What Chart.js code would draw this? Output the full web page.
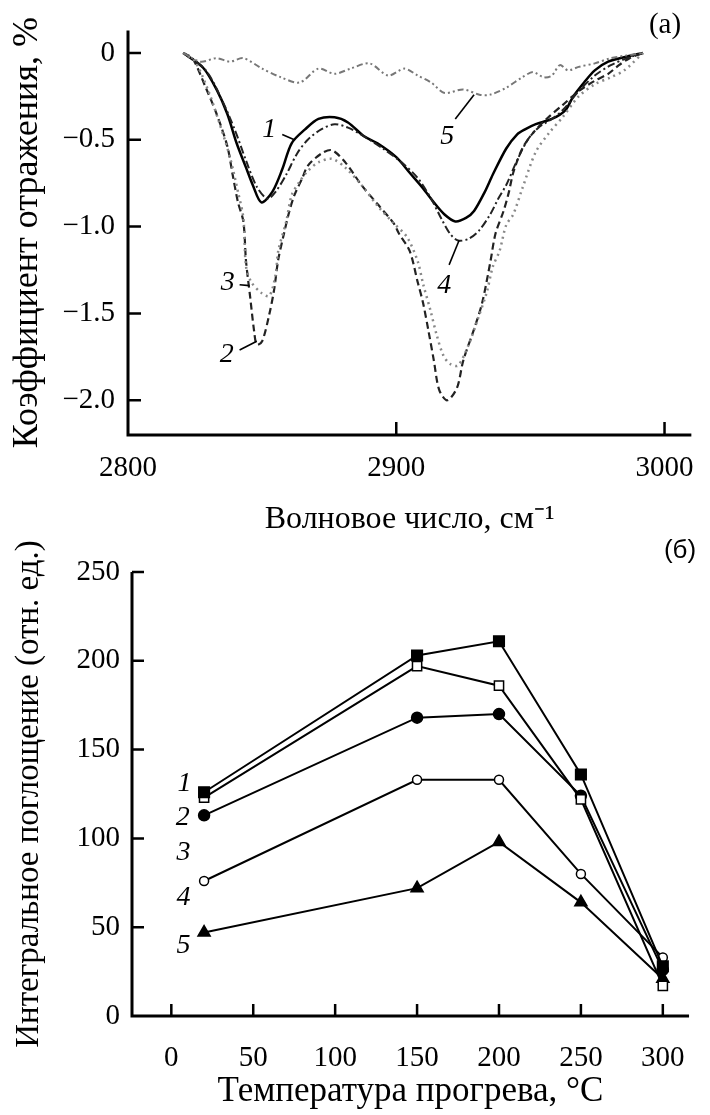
<!DOCTYPE html>
<html>
<head>
<meta charset="utf-8">
<script src="https://cdn.jsdelivr.net/npm/chart.js@4.4.1/dist/chart.umd.min.js"></script>
<style>
  html, body { margin: 0; padding: 0; background: #fff; }
  #wrap { position: relative; width: 710px; height: 1115px; }
  .box { position: absolute; left: 0; width: 710px; }
  #boxA { top: 0; height: 540px; }
  #boxB { top: 500px; height: 615px; }
</style>
</head>
<body>
<div id="wrap">
  <div class="box" id="boxA"><canvas id="chartA"></canvas></div>
  <div class="box" id="boxB"><canvas id="chartB"></canvas></div>
</div>
<script>
// (a) reflection spectra, wavenumber (cm-1) vs reflection coefficient (%)
const wn1 = [2820.6, 2828, 2833, 2837, 2840.5, 2844, 2846.5, 2849.7, 2853.8, 2857.5, 2861, 2866, 2871, 2877, 2882, 2888, 2893, 2900, 2905, 2910, 2914, 2918, 2922, 2926, 2929, 2933, 2936, 2941, 2945, 2948, 2952, 2958, 2963, 2966, 2970, 2974, 2979, 2986, 2992];
const r1  = [0, -0.085, -0.21, -0.35, -0.52, -0.66, -0.76, -0.86, -0.80, -0.67, -0.52, -0.44, -0.38, -0.37, -0.40, -0.48, -0.52, -0.60, -0.69, -0.78, -0.86, -0.93, -0.97, -0.95, -0.91, -0.80, -0.70, -0.55, -0.47, -0.44, -0.41, -0.38, -0.33, -0.25, -0.17, -0.10, -0.05, -0.02, 0];

const wn2 = [2820.6, 2824, 2829, 2833, 2837, 2839, 2841, 2843, 2844, 2845.5, 2847, 2848, 2850, 2852.6, 2854.5, 2856, 2858, 2860, 2862, 2865, 2867, 2872, 2876, 2881, 2887, 2893, 2899, 2901, 2905, 2908, 2910, 2912, 2914, 2916, 2919, 2922.6, 2925, 2929, 2932, 2935, 2937, 2940, 2942, 2943.6, 2947, 2951, 2956, 2962, 2968, 2974, 2979, 2983, 2987, 2992];
const r2  = [0, -0.03, -0.2, -0.35, -0.535, -0.70, -0.86, -0.97, -1.2, -1.4, -1.6, -1.68, -1.66, -1.51, -1.36, -1.19, -1.05, -0.92, -0.82, -0.72, -0.65, -0.58, -0.56, -0.63, -0.76, -0.87, -0.98, -1.04, -1.14, -1.32, -1.44, -1.6, -1.77, -1.94, -2.0, -1.93, -1.77, -1.59, -1.44, -1.21, -1.04, -0.91, -0.8, -0.69, -0.55, -0.46, -0.38, -0.30, -0.22, -0.16, -0.12, -0.07, -0.03, 0];

const wn3 = [2820.6, 2825, 2830, 2834, 2838, 2841, 2843, 2844, 2846, 2849.6, 2852.6, 2855, 2856, 2859, 2861, 2864, 2867, 2871, 2876, 2881, 2887, 2893, 2899, 2904, 2908, 2910, 2912.7, 2915, 2917.5, 2920, 2923, 2927, 2930, 2933.7, 2936, 2938.5, 2941, 2943.6, 2947, 2952, 2957, 2962, 2968, 2974, 2980, 2985, 2992];
const r3  = [0, -0.05, -0.22, -0.40, -0.6, -0.80, -0.95, -1.23, -1.32, -1.38, -1.40, -1.28, -1.14, -0.97, -0.82, -0.74, -0.68, -0.63, -0.61, -0.66, -0.76, -0.88, -0.98, -1.06, -1.2, -1.33, -1.48, -1.62, -1.74, -1.79, -1.80, -1.68, -1.55, -1.38, -1.23, -1.14, -0.99, -0.93, -0.78, -0.57, -0.46, -0.37, -0.25, -0.18, -0.14, -0.10, 0];

const wn4 = [2820.6, 2829, 2835, 2840, 2844, 2848, 2852, 2855, 2859, 2863, 2867, 2872, 2877, 2882, 2888, 2895, 2902, 2908, 2913, 2917, 2920, 2923, 2927, 2931, 2935, 2938, 2941, 2945, 2949, 2953, 2958, 2962, 2968, 2974, 2980, 2986, 2992];
const r4  = [0, -0.10, -0.27, -0.45, -0.62, -0.77, -0.84, -0.80, -0.70, -0.58, -0.50, -0.44, -0.41, -0.43, -0.48, -0.55, -0.63, -0.72, -0.84, -0.96, -1.04, -1.08, -1.07, -1.02, -0.93, -0.84, -0.76, -0.62, -0.50, -0.43, -0.38, -0.33, -0.22, -0.13, -0.07, -0.03, 0];

const wn5 = [2820.6, 2827, 2833, 2838, 2843, 2850, 2857, 2864, 2871, 2877, 2883, 2890, 2897, 2903, 2908, 2913, 2918, 2925, 2931, 2935, 2941, 2947, 2951, 2955, 2958, 2961, 2964, 2968, 2974, 2980, 2992];
const r5  = [0, -0.05, -0.03, -0.05, -0.03, -0.09, -0.14, -0.17, -0.09, -0.12, -0.09, -0.06, -0.13, -0.09, -0.13, -0.17, -0.23, -0.21, -0.24, -0.24, -0.20, -0.14, -0.11, -0.14, -0.13, -0.07, -0.10, -0.08, -0.06, -0.03, 0];

const xTicksA = [2800, 2900, 3000];
const yTicksA = [0, -0.5, -1.0, -1.5, -2.0];

// (б) integral absorption vs heating temperature
const temps = [20, 150, 200, 250, 300];
const abs1 = [126, 203, 211, 136, 28];
const abs2 = [123, 197, 186, 122, 17];
const abs3 = [113, 168, 170, 124, 26];
const abs4 = [76, 133, 133, 80, 33];
const abs5 = [47, 72, 98, 64, 21];

const xTicksB = [0, 50, 100, 150, 200, 250, 300];
const yTicksB = [0, 50, 100, 150, 200, 250];

const SERIF = "'Liberation Serif', 'Times New Roman', serif";

function pts(xs, ys) {
  return xs.map((x, i) => ({ x: x, y: ys[i] }));
}

// axis lines with inward ticks
const axesPlugin = {
  id: "axesInward",
  afterDatasetsDraw(chart, args, opts) {
    const ctx = chart.ctx;
    const a = chart.chartArea;
    const xs = chart.scales.x, ys = chart.scales.y;
    ctx.save();
    ctx.strokeStyle = "#000";
    ctx.lineWidth = opts.width || 3;
    ctx.beginPath();
    ctx.moveTo(a.left, a.top);
    ctx.lineTo(a.left, a.bottom);
    ctx.lineTo(a.right, a.bottom);
    ctx.stroke();
    ctx.lineWidth = opts.tickWidth || 2.5;
    ctx.beginPath();
    ys.ticks.forEach(t => {
      const y = ys.getPixelForValue(t.value);
      if (Math.abs(y - a.bottom) < 1) return;
      ctx.moveTo(a.left, y);
      ctx.lineTo(a.left + opts.len, y);
    });
    xs.ticks.forEach(t => {
      const x = xs.getPixelForValue(t.value);
      if (Math.abs(x - a.left) < 1) return;
      ctx.moveTo(x, a.bottom);
      ctx.lineTo(x, a.bottom - opts.len);
    });
    ctx.stroke();
    ctx.restore();
  }
};

// curve numbers, leader lines and panel letter
const notesPlugin = {
  id: "notes",
  afterDatasetsDraw(chart, args, opts) {
    const ctx = chart.ctx;
    const xs = chart.scales.x, ys = chart.scales.y;
    ctx.save();
    ctx.fillStyle = "#000";
    ctx.strokeStyle = "#000";
    ctx.lineWidth = 1.6;
    ctx.textAlign = "center";
    ctx.textBaseline = "middle";
    ctx.font = "italic 28px " + SERIF;
    (opts.items || []).forEach(n => {
      ctx.fillText(n.t, xs.getPixelForValue(n.x), ys.getPixelForValue(n.y));
      if (n.l) {
        ctx.beginPath();
        ctx.moveTo(xs.getPixelForValue(n.l[0]), ys.getPixelForValue(n.l[1]));
        ctx.lineTo(xs.getPixelForValue(n.l[2]), ys.getPixelForValue(n.l[3]));
        ctx.stroke();
      }
    });
    if (opts.panel) {
      ctx.font = opts.panel.font;
      ctx.fillText(opts.panel.t, opts.panel.px, opts.panel.py);
    }
    ctx.restore();
  }
};

const fixWidth = w => scale => { scale.width = w; };
const fixHeight = h => scale => { scale.height = h; };

new Chart(document.getElementById("chartA"), {
  type: "scatter",
  data: {
    datasets: [
      { label: "5", data: pts(wn5, r5), borderColor: "#777", borderWidth: 2, borderDash: [6, 3, 2, 3, 2, 3] },
      { label: "3", data: pts(wn3, r3), borderColor: "#888", borderWidth: 2.5, borderDash: [2, 4] },
      { label: "4", data: pts(wn4, r4), borderColor: "#222", borderWidth: 2, borderDash: [8, 3, 2, 3] },
      { label: "2", data: pts(wn2, r2), borderColor: "#222", borderWidth: 2.2, borderDash: [7, 4] },
      { label: "1", data: pts(wn1, r1), borderColor: "#000", borderWidth: 2.5 }
    ]
  },
  options: {
    responsive: true,
    maintainAspectRatio: false,
    animation: false,
    showLine: true,
    elements: { point: { radius: 0 }, line: { tension: 0.3, fill: false } },
    layout: { padding: { top: 22, right: 10, left: 0, bottom: 0 } },
    plugins: {
      legend: { display: false },
      tooltip: { enabled: false },
      axesInward: { len: 13, width: 3 },
      notes: {
        items: [
          { t: "1", x: 2852.7, y: -0.44, l: [2857.5, -0.47, 2862, -0.50] },
          { t: "2", x: 2836.8, y: -1.735, l: [2841.6, -1.71, 2848, -1.66] },
          { t: "3", x: 2837.2, y: -1.32, l: [2841.6, -1.335, 2845.3, -1.34] },
          { t: "4", x: 2917.9, y: -1.34, l: [2919.7, -1.22, 2923.4, -1.08] },
          { t: "5", x: 2919, y: -0.48, l: [2922, -0.38, 2929, -0.24] }
        ],
        panel: { t: "(a)", px: 665, py: 25, font: "29px " + SERIF }
      }
    },
    scales: {
      x: {
        type: "linear",
        min: 2800,
        max: 3010,
        afterFit: fixHeight(105),
        afterBuildTicks: s => { s.ticks = xTicksA.map(v => ({ value: v })); },
        grid: { display: false, drawTicks: false },
        border: { display: false },
        ticks: { padding: 16, color: "#000", font: { family: SERIF, size: 29 }, maxRotation: 0, callback: v => String(v) },
        title: { display: true, text: "Волновое число, см⁻¹", color: "#000", font: { family: SERIF, size: 32 }, padding: { top: 0, bottom: 1 } }
      },
      y: {
        min: -2.2,
        max: 0.13,
        afterFit: fixWidth(128),
        afterBuildTicks: s => { s.ticks = yTicksA.map(v => ({ value: v })); },
        grid: { display: false, drawTicks: false },
        border: { display: false },
        ticks: {
          padding: 13, color: "#000", font: { family: SERIF, size: 29 },
          callback: v => v === 0 ? "0" : "−" + Math.abs(v).toFixed(1)
        },
        title: { display: true, text: "Коэффициент отражения, %", color: "#000", font: { family: SERIF, size: 36 }, padding: { top: 6, bottom: 0 } }
      }
    }
  },
  plugins: [axesPlugin, notesPlugin]
});

new Chart(document.getElementById("chartB"), {
  type: "line",
  data: {
    datasets: [
      { label: "1", data: pts(temps, abs1), pointStyle: "rect", pointRadius: 7.5, pointBackgroundColor: "#000" },
      { label: "2", data: pts(temps, abs2), pointStyle: "rect", pointRadius: 6.5, pointBackgroundColor: "#fff" },
      { label: "3", data: pts(temps, abs3), pointStyle: "circle", pointRadius: 5.5, pointBackgroundColor: "#000" },
      { label: "4", data: pts(temps, abs4), pointStyle: "circle", pointRadius: 4.5, pointBackgroundColor: "#fff" },
      { label: "5", data: pts(temps, abs5), pointStyle: "triangle", pointRadius: 7, pointBackgroundColor: "#000" }
    ]
  },
  options: {
    responsive: true,
    maintainAspectRatio: false,
    animation: false,
    elements: {
      line: { borderColor: "#000", borderWidth: 2, tension: 0, fill: false },
      point: { borderColor: "#000", borderWidth: 1.5 }
    },
    layout: { padding: { top: 72, right: 2, left: 0, bottom: 0 } },
    plugins: {
      legend: { display: false },
      tooltip: { enabled: false },
      axesInward: { len: 12, width: 3 },
      notes: {
        items: [
          { t: "1", x: 8, y: 131 },
          { t: "2", x: 7, y: 111.5 },
          { t: "3", x: 7.5, y: 92 },
          { t: "4", x: 7.5, y: 66.5 },
          { t: "5", x: 7.5, y: 39.5 }
        ],
        panel: { t: "(б)", px: 680, py: 51, font: "26px 'Liberation Sans', Arial, sans-serif" }
      }
    },
    scales: {
      x: {
        type: "linear",
        min: -24,
        max: 316,
        afterFit: fixHeight(99),
        afterBuildTicks: s => { s.ticks = xTicksB.map(v => ({ value: v })); },
        grid: { display: false, drawTicks: false },
        border: { display: false },
        ticks: { padding: 25, color: "#000", font: { family: SERIF, size: 29 }, maxRotation: 0 },
        title: { display: true, text: "Температура прогрева, °C", color: "#000", font: { family: SERIF, size: 35 }, padding: { top: 0, bottom: 2 } }
      },
      y: {
        min: 0,
        max: 250,
        afterFit: fixWidth(132),
        afterBuildTicks: s => { s.ticks = yTicksB.map(v => ({ value: v })); },
        grid: { display: false, drawTicks: false },
        border: { display: false },
        ticks: { padding: 12, color: "#000", font: { family: SERIF, size: 29 } },
        title: { display: true, text: "Интегральное поглощение (отн. ед.)", color: "#000", font: { family: SERIF, size: 33 }, padding: { top: 10, bottom: 0 } }
      }
    }
  },
  plugins: [axesPlugin, notesPlugin]
});
</script>
</body>
</html>
